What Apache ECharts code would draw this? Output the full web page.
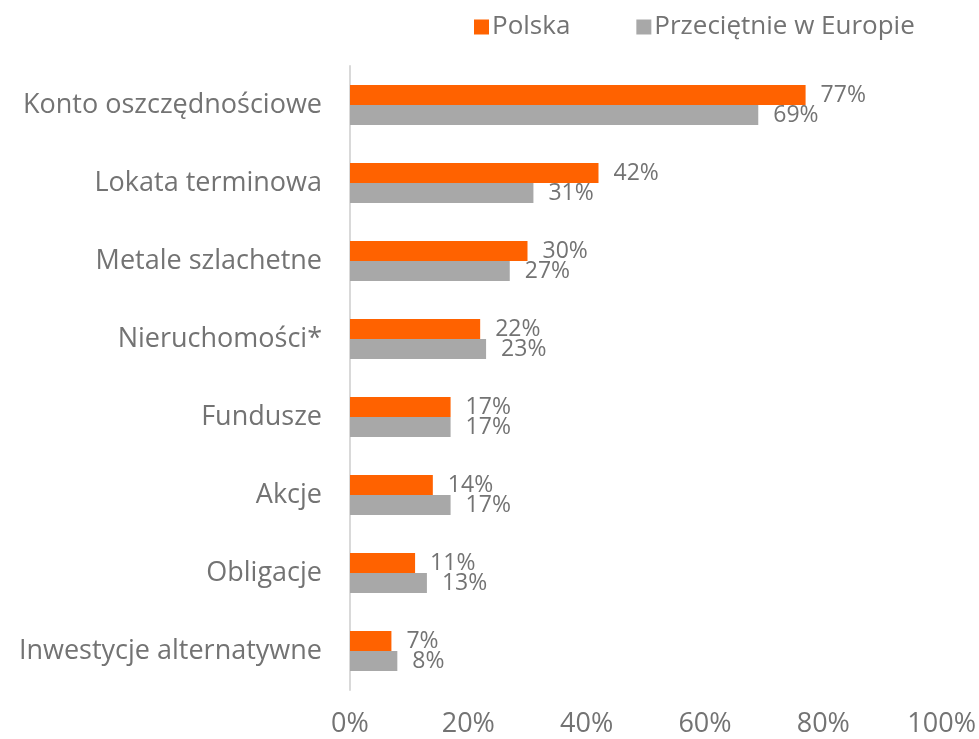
<!DOCTYPE html>
<html>
<head>
<meta charset="utf-8">
<script src="https://cdn.jsdelivr.net/npm/echarts@6/dist/echarts.min.js"></script>
<style>
  html, body { margin: 0; padding: 0; background: #fff; }
  #chart { width: 979px; height: 739px; }
</style>
</head>
<body>
<div id="chart"></div>
<script>
// kategorie (od góry)
var categories = ['Konto oszczędnościowe', 'Lokata terminowa', 'Metale szlachetne', 'Nieruchomości*',
  'Fundusze', 'Akcje', 'Obligacje', 'Inwestycje alternatywne'];
var polska = [77, 42, 30, 22, 17, 14, 11, 7];
var europa = [69, 31, 27, 23, 17, 17, 13, 8];
var xTicks = [0, 20, 40, 60, 80, 100];

var font = 'Open Sans';
var txt = '#737373';

var chart = echarts.init(document.getElementById('chart'));
chart.setOption({
  animation: false,
  textStyle: { fontFamily: font },
  legend: {
    top: 9,
    left: 469,
    itemWidth: 15,
    itemHeight: 15,
    itemGap: 66,
    icon: 'rect',
    textStyle: { fontSize: 26, color: txt, fontFamily: font, padding: [0, 0, 0, -2] },
    data: ['Polska', 'Przeciętnie w Europie']
  },
  grid: { left: 350, right: 34, top: 66, bottom: 49, containLabel: false },
  xAxis: {
    type: 'value',
    min: 0, max: 100, interval: 20,
    splitLine: { show: false },
    axisLine: { show: false },
    axisTick: { show: false },
    axisLabel: {
      margin: 21,
      fontSize: 27,
      color: txt,
      fontFamily: font,
      formatter: function (v) { return xTicks.indexOf(v) >= 0 ? v + '%' : ''; }
    }
  },
  yAxis: {
    type: 'category',
    inverse: true,
    data: categories,
    axisLine: { show: true, lineStyle: { color: '#d9d9d9', width: 2 } },
    axisTick: { show: false },
    axisLabel: { margin: 28, fontSize: 27, color: txt, fontFamily: font }
  },
  series: [
    {
      name: 'Polska', type: 'bar', data: polska,
      barWidth: 20, barGap: '0%',
      itemStyle: { color: '#ff6200' },
      label: { show: true, position: 'right', distance: 15, fontSize: 23, color: txt, fontFamily: font,
        formatter: '{c}%' }
    },
    {
      name: 'Przeciętnie w Europie', type: 'bar', data: europa,
      barWidth: 20, barGap: '0%',
      itemStyle: { color: '#a8a8a8' },
      label: { show: true, position: 'right', distance: 15, fontSize: 23, color: txt, fontFamily: font,
        formatter: '{c}%' }
    }
  ]
});
</script>
</body>
</html>
